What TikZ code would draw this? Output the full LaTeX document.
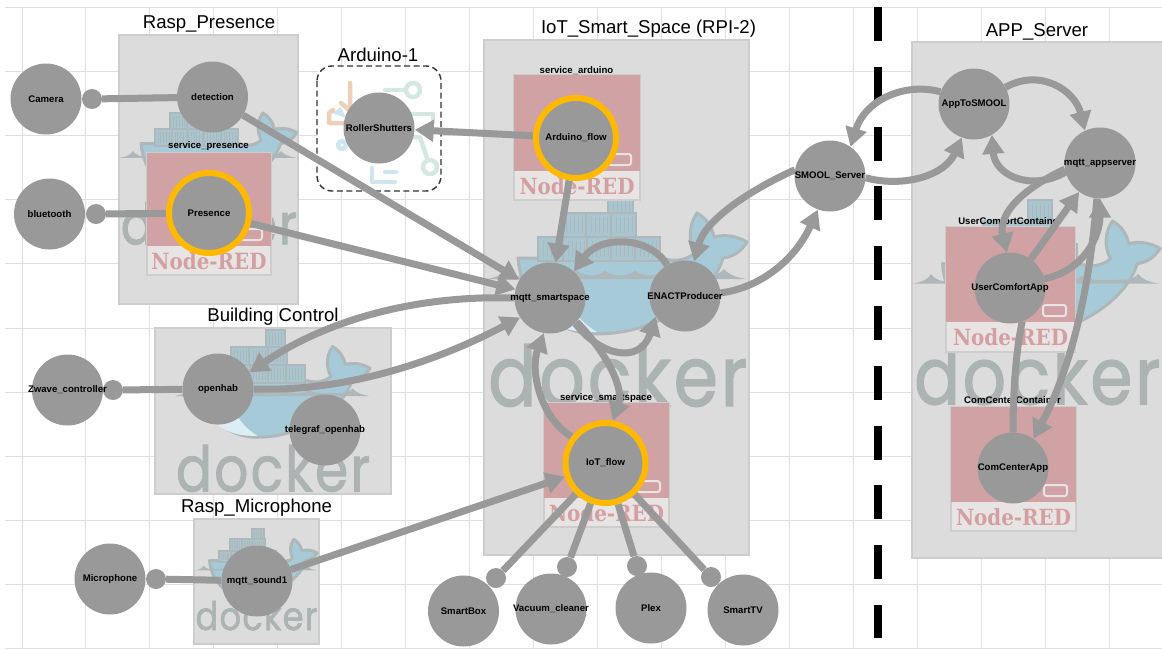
\documentclass[tikz,border=0pt]{standalone}
\usepackage{fontspec}
\setmainfont{Liberation Sans}
\newfontfamily\logofont[LetterSpace=4,FakeBold=1.6]{Poppins}
\newfontfamily\redfont[BoldFont=DejaVu Serif Bold]{DejaVu Serif}
\usetikzlibrary{arrows.meta}
\definecolor{gridc}{HTML}{DFDFDF}
\definecolor{boxf}{HTML}{DCDCDC}
\definecolor{boxl}{HTML}{CDCDCD}
\definecolor{nodec}{HTML}{999999}
\definecolor{ringc}{HTML}{FFB900}
\definecolor{whale}{HTML}{A6CAD8}
\definecolor{whalel}{HTML}{AEB8BA}
\definecolor{contc}{HTML}{A8C6D0}
\definecolor{wordc}{HTML}{ABB3B3}
\definecolor{pinkc}{HTML}{D0A2A4}
\definecolor{stripc}{HTML}{E9E4E4}
\definecolor{redt}{HTML}{D3A0A2}
\definecolor{icono}{HTML}{EFCFB8}
\definecolor{iconb}{HTML}{CFE6EF}
\definecolor{icont}{HTML}{D3E8E0}
\pgfdeclarelayer{bg}\pgfdeclarelayer{lines}
\pgfsetlayers{bg,lines,main}
\newcommand{\lb}[1]{\makebox[0pt][c]{#1}}
\tikzset{
 x=1pt,y=-1pt,
 device/.style={circle,fill=nodec,minimum size=71pt,inner sep=0pt,font=\fontsize{9.6}{10}\selectfont\bfseries},
 flowring/.style={circle,fill=nodec,draw=ringc,line width=6pt,minimum size=80pt,inner sep=0pt,font=\fontsize{9.6}{10}\selectfont\bfseries},
 ball/.style={circle,fill=nodec,minimum size=20pt,inner sep=0pt},
 title/.style={font=\fontsize{18.6}{20}\selectfont,inner sep=0pt},
 cont/.style={font=\fontsize{9.6}{10}\selectfont\bfseries,inner sep=0pt},
 group/.style={fill=boxf,draw=boxl,line width=1.6pt},
 link/.style={draw=nodec,line width=7pt},
 flow/.style={link,-{Triangle[length=19pt,width=21pt]}},
}
% docker logo: x0 y0 scale name
\newcommand{\dockerlogo}[4]{%
 \begin{scope}[shift={(#1,#2)},scale=#3,transform shape]
  \path[fill=whale,draw=whalel,line width=3pt,line join=round]
   (31,67) -- (175,67) .. controls (186,71) and (198,70) .. (208,62)
   .. controls (200,48) and (203,32) .. (210,22)
   .. controls (220,28) and (225,36) .. (227,46)
   .. controls (238,43) and (250,45) .. (260,51)
   .. controls (254,61) and (245,66) .. (236,67)
   .. controls (225,105) and (170,143) .. (110,143)
   .. controls (70,143) and (35,115) .. (31,67) -- cycle;
  \path[fill=iconb!70!white] (57,127) .. controls (72,138) and (90,142) .. (110,141) .. controls (95,132) and (85,120) .. (80,108) -- cycle;
  \path[fill=whalel] (0,88) .. controls (10,86) and (15,84) .. (19,78) .. controls (23,84) and (30,86) .. (40,86)
   -- (90,80) .. controls (100,86) and (108,86) .. (118,80) .. controls (128,86) and (138,86) .. (148,80) .. controls (158,86) and (168,86) .. (178,80)
   .. controls (190,86) and (200,84) .. (215,84) .. controls (225,84) and (232,84) .. (237,78) .. controls (242,84) and (248,86) .. (259,88) -- cycle;
  \foreach \cx/\cy in {121/0,74/22,99/22,124/22,51/46,76/46,100/46,124/46,148/46}{
   \path[fill=contc,draw=whalel,line width=2pt] (\cx,\cy) rectangle ++(25,24);
   \foreach \q in {5,9,13,17,21}{\draw[whalel,line width=.7pt] (\cx+\q,\cy+4) -- (\cx+\q,\cy+20);}
  }
  \node[anchor=south west,inner sep=0pt,text=wordc,transform shape] (#4) at (1,216)
   {\resizebox{259pt}{62pt}{\logofont docker}};
 \end{scope}}
% Node-RED card: left top right bottom pinkbottom name
\newcommand{\nodered}[6]{%
 \path[fill=stripc,draw=boxl,line width=1.5pt] (#1,#2) rectangle (#3,#4);
 \path[fill=pinkc] (#1,#2) rectangle (#3,#5);
 \path[draw=stripc,line width=2pt,rounded corners=2.5pt] (#3-32,#5-17) rectangle (#3-9,#5-6);
 \node[inner sep=0pt,text=redt] (#6) at ({(#1+#3)/2},{(#5+#4)/2+.3}) {\resizebox{115pt}{17pt}{\redfont\bfseries Node-RED}};}
\begin{document}
\begin{tikzpicture}
\useasboundingbox (0,0) rectangle (1162,649);
\begin{pgfonlayer}{bg}
 \fill[white] (0,0) rectangle (1162,649);
 \foreach \gx in {22,85,149,213,277,341,405,469,533,597,661,725,789,853,917,981,1045,1109}
  {\draw[gridc,line width=.9pt] (\gx,7) -- (\gx,649);}
 \foreach \gy in {7.5,71,135,199,263,328,392,456,520,584,648}
  {\draw[gridc,line width=.9pt] (5,\gy) -- (1162,\gy);}
 % groups
 \path[group] (119,35) rectangle (298,304);
 \path[group] (484,40) rectangle (749,555);
 \path[group] (912,42) rectangle (1164,558);
 \path[group] (155,328) rectangle (391,494);
 \path[group] (194,519) rectangle (319,644);
 % logos
 \dockerlogo{120}{98}{.68}{wordA}
 \dockerlogo{487}{191}{1}{wordB}
 \dockerlogo{913}{200}{.95}{wordC}
 \dockerlogo{175}{330}{.75}{wordD}
 \dockerlogo{195}{529}{.47}{wordE}
 % Node-RED cards
 \nodered{147}{153}{271}{275}{246}{redA}
 \nodered{514}{75}{640}{200}{171}{redB}
 \nodered{544}{403}{669}{527}{498}{redC}
 \nodered{946}{227}{1075}{352}{322}{redD}
 \nodered{951}{407}{1076}{531}{502}{redE}
 % Arduino icon
 \fill[white] (318,67) rectangle (440,190);
 \begin{scope}[line width=4.5pt,line cap=round,line join=round]
  \fill[iconb] (332,113) -- (341,107) -- (346,118) -- cycle;
  \draw[icono] (350,83) -- (350,111) -- (341,103);
  \draw[icono] (333,110) -- (329,113) -- (329,123) -- (346,123);
  \draw[iconb] (342,145) circle (4);
  \draw[icont] (385,90) -- (405,90);
  \draw[icont] (413,90) circle (7);
  \draw[icont] (405,114) -- (433,114) -- (433,122);
  \draw[icont] (410,137) -- (420,137) -- (427,158);
  \draw[icont] (430,167) circle (7);
  \draw[iconb] (372,168) -- (372,182) -- (395,182);
  \draw[iconb] (385,172) -- (396,172);
 \end{scope}
 \path[draw=black!80,line width=1.4pt,dash pattern=on 6pt off 3.5pt,rounded corners=15pt] (317,66) rectangle (441,191);
 % container labels
 \node[cont] (lcA) at (208.5,146.5) {service\_presence};
 \node[cont] (lcB) at (576.5,70.5) {service\_arduino};
 \node[cont] (lcC) at (606,398) {service\_smartspace};
 \node[cont] (lcD) at (1010,221.5) {UserComfortContainer};
 \node[cont] (lcE) at (1012.5,400.5) {ComCenterContainer};
\end{pgfonlayer}
% titles
\node[title] (tA) at (209,24) {Rasp\_Presence};
\node[title] (tB) at (378,55) {Arduino-1};
\node[title] (tC) at (648.5,29) {IoT\_Smart\_Space (RPI-2)};
\node[title] (tD) at (1037,31.5) {APP\_Server};
\node[title] (tE) at (273,317) {Building Control};
\node[title] (tF) at (256.5,508) {Rasp\_Microphone};
% balls
\node[ball] (bCamera) at (92,99) {};
\node[ball] (bBlue) at (96,214) {};
\node[ball] (bZwave) at (113,390) {};
\node[ball] (bMic) at (156,579) {};
\node[ball] (bBox) at (496,578) {};
\node[ball] (bVac) at (567,567) {};
\node[ball] (bPlex) at (637,566) {};
\node[ball] (bTV) at (711,577) {};
% devices
\node[device] (camera) at (46,99) {\lb{Camera}};
\node[device] (detection) at (212.5,97) {\lb{detection}};
\node[device] (bluetooth) at (49.5,214) {\lb{bluetooth}};
\node[flowring] (presence) at (209,213) {\lb{Presence}};
\node[device] (roller) at (379,128) {\lb{RollerShutters}};
\node[flowring] (arduinoflow) at (576,138) {\lb{Arduino\_flow}};
\node[device] (mqtt) at (550,298) {\lb{mqtt\_smartspace}};
\node[device] (enact) at (685,296) {\lb{ENACTProducer}};
\node[device] (smool) at (830,176) {\lb{SMOOL\_Server}};
\node[device] (apptosmool) at (974,104) {\lb{AppToSMOOL}};
\node[device] (appserver) at (1100,163) {\lb{mqtt\_appserver}};
\node[device] (usercomfort) at (1010,288) {\lb{UserComfortApp}};
\node[device] (comcenter) at (1013,468) {\lb{ComCenterApp}};
\node[device] (openhab) at (218,389) {\lb{openhab}};
\node[device] (telegraf) at (325,430) {\lb{telegraf\_openhab}};
\node[device] (zwave) at (67.5,390) {\lb{Zwave\_controller}};
\node[device] (microphone) at (110,579) {\lb{Microphone}};
\node[device] (sound) at (257,581) {\lb{mqtt\_sound1}};
\node[flowring] (iotflow) at (605.5,463) {\lb{IoT\_flow}};
\node[device] (smartbox) at (463.5,611) {\lb{SmartBox}};
\node[device] (vacuum) at (551,609) {\lb{Vacuum\_cleaner}};
\node[device] (plex) at (651,608) {\lb{Plex}};
\node[device] (smarttv) at (743,610) {\lb{SmartTV}};
% dashed divider
\coordinate (divA) at (878,7);
\coordinate (divB) at (878,638);
\begin{pgfonlayer}{lines}
 \draw[black,line width=8.5pt,dash pattern=on 34pt off 25.8pt] (divA) -- (divB);
 \draw[link] (bCamera) -- (detection);
 \draw[link] (bBlue) -- (presence);
 \draw[link] (bZwave) -- (openhab);
 \draw[link] (bMic) -- (sound);
 \draw[flow] (detection) -- (mqtt);
 \draw[flow] (presence) -- (mqtt);
 \draw[flow] (arduinoflow) -- (roller);
 \draw[flow] (arduinoflow) -- (mqtt);
 \draw[flow] (sound) -- (iotflow);
 \draw[flow] (openhab.east) .. controls (340,392) and (430,365) .. (mqtt.213);
 \draw[flow] (mqtt.180) .. controls (420,295) and (330,318) .. (openhab.28);
 \draw[flow] (enact.120) .. controls (650,236) and (600,235) .. (mqtt.48);
 \draw[flow] (mqtt.-45) .. controls (600,356) and (640,365) .. (enact.-145);
 \draw[flow] (mqtt.-42) .. controls (600,345) and (625,385) .. (iotflow.80);
 \draw[flow] (iotflow.142) .. controls (540,418) and (530,370) .. (mqtt.-100);
 \draw[flow] (enact.5) .. controls (760,288) and (795,260) .. (smool.-110);
 \draw[flow] (smool.170) .. controls (750,190) and (705,220) .. (enact.75);
 \draw[flow] (smool.-3) .. controls (905,188) and (945,175) .. (apptosmool.-110);
 \draw[flow] (apptosmool.160) .. controls (905,82) and (865,100) .. (smool.55);
 \draw[flow] (apptosmool.28) .. controls (1040,68) and (1075,90) .. (appserver.115);
 \draw[flow] (appserver.-165) .. controls (1030,192) and (995,175) .. (apptosmool.-60);
 \draw[flow] (appserver.-170) .. controls (1020,190) and (998,215) .. (usercomfort.95);
 \draw[flow] (usercomfort) -- (appserver);
 \draw[flow] (usercomfort.15) .. controls (1085,270) and (1100,235) .. (appserver.-90);
 \draw[link] (usercomfort.-70) .. controls (1015,355) and (1013,400) .. (comcenter.90);
 \draw[flow] (appserver.-95) .. controls (1090,280) and (1075,360) .. (comcenter.55);
 \draw[link] (iotflow) -- (bBox);
 \draw[link] (iotflow) -- (bVac);
 \draw[link] (iotflow) -- (bPlex);
 \draw[link] (iotflow) -- (bTV);
\end{pgfonlayer}
\end{tikzpicture}
\end{document}
